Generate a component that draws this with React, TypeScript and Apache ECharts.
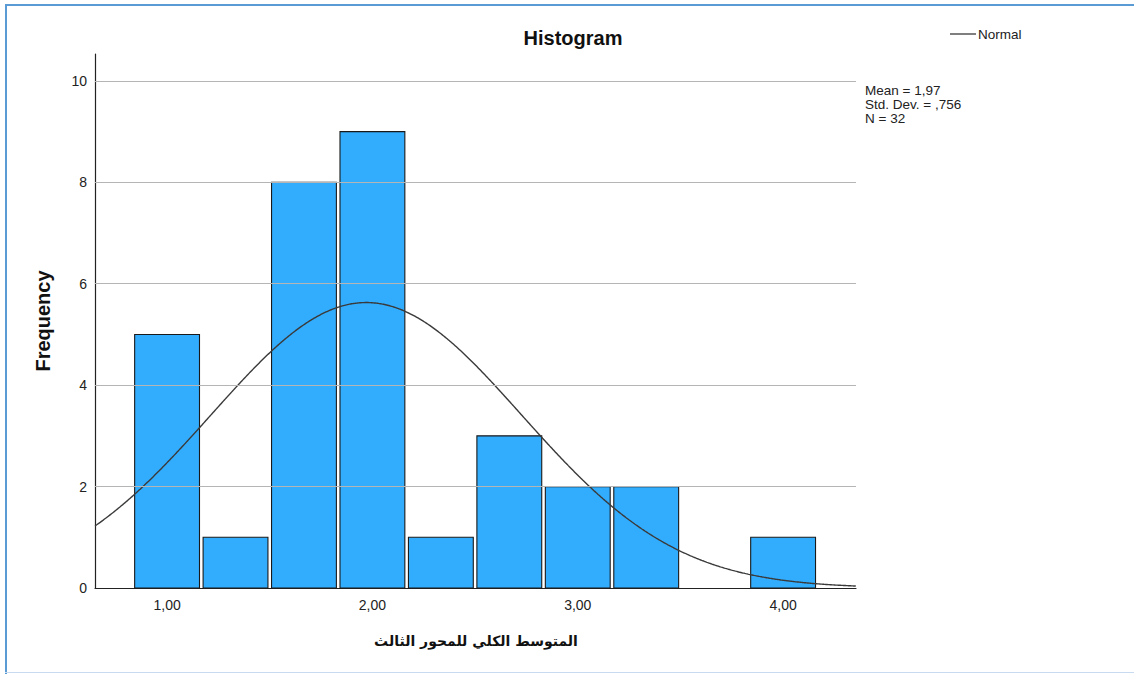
import React, { useEffect, useRef } from "react";
import * as echarts from "echarts";

// Histogram bins (bin width = 1/3) and their frequencies
const binWidth = 1 / 3;
const binCenters = [1, 4 / 3, 5 / 3, 2, 7 / 3, 8 / 3, 3, 10 / 3, 11 / 3, 4];
const frequencies = [5, 1, 8, 9, 1, 3, 2, 2, 0, 1];

// Summary statistics shown in the side note and used for the normal curve
const mean = 1.97;
const stdDev = 0.756;
const n = 32;

// Axis ranges and tick labels
const xMin = 0.649;
const xMax = 4.355;
const yMax = 10.53;
const xTicks = [1, 2, 3, 4];
const yTicks = [0, 2, 4, 6, 8, 10];
const gridValues = [2, 4, 6, 8, 10];

const xAxisTitle = "المتوسط الكلي للمحور الثالث";

const commaDecimal = (v: number, digits: number) => {
  let s = v.toFixed(digits).replace(".", ",");
  if (s.startsWith("0,")) s = s.slice(1);
  return s;
};

// Fitted normal curve, scaled to counts per bin
const normalCurve = (() => {
  const pts: [number, number][] = [];
  const k = (n * binWidth) / (stdDev * Math.sqrt(2 * Math.PI));
  for (let x = xMin; x <= xMax + 1e-9; x += 0.005) {
    const z = (x - mean) / stdDev;
    pts.push([x, k * Math.exp(-0.5 * z * z)]);
  }
  return pts;
})();

const FONT = "'Liberation Sans', Arial, sans-serif";

export default function App() {
  const ref = useRef<HTMLDivElement>(null);

  useEffect(() => {
    if (!ref.current) return;
    const chart = echarts.init(ref.current, null, { renderer: "svg" });
    chart.setOption({
      animation: false,
      backgroundColor: "#ffffff",
      grid: { left: 95, right: 278, top: 54, bottom: 86 },
      legend: {
        left: 950,
        top: 27,
        padding: 0,
        itemWidth: 26,
        itemHeight: 1.5,
        data: [{ name: "Normal", icon: "rect", itemStyle: { color: "#555" } }],
        textStyle: { fontFamily: FONT, fontSize: 13.5, color: "#222", padding: [0, 0, 0, -3] },
      },
      xAxis: {
        type: "value",
        min: xMin,
        max: xMax,
        splitLine: { show: false },
        axisTick: { show: false },
        axisLine: { show: true, onZero: false, lineStyle: { color: "#222", width: 1.2 } },
        axisLabel: {
          customValues: xTicks,
          formatter: (v: number) => commaDecimal(v, 2),
          fontFamily: FONT,
          fontSize: 14,
          color: "#222",
          margin: 10,
        },
      },
      yAxis: {
        type: "value",
        min: 0,
        max: yMax,
        splitLine: { show: false },
        axisTick: { show: false },
        axisLine: { show: true, lineStyle: { color: "#222", width: 1.2 } },
        axisLabel: {
          customValues: yTicks,
          formatter: (v: number) => String(Math.round(v)),
          fontFamily: FONT,
          fontSize: 14,
          color: "#222",
          margin: 8,
        },
      },
      graphic: [
        {
          type: "text",
          x: 573,
          y: 38,
          style: {
            text: "Histogram",
            font: `bold 20px ${FONT}`,
            fill: "#111",
            align: "center",
            verticalAlign: "middle",
          },
        },
        {
          type: "text",
          x: 43,
          y: 321,
          rotation: Math.PI / 2,
          style: {
            text: "Frequency",
            font: `bold 20px ${FONT}`,
            fill: "#111",
            align: "center",
            verticalAlign: "middle",
          },
        },
        {
          type: "text",
          x: 476,
          y: 641,
          style: {
            text: xAxisTitle,
            font: `bold 14px 'DejaVu Sans', sans-serif`,
            fill: "#111",
            align: "center",
            verticalAlign: "middle",
          },
        },
        {
          type: "text",
          x: 865,
          y: 83,
          style: {
            text: [
              `Mean = ${commaDecimal(mean, 2)}`,
              `Std. Dev. = ${commaDecimal(stdDev, 3)}`,
              `N = ${n}`,
            ].join("\n"),
            font: `13.5px ${FONT}`,
            lineHeight: 14,
            fill: "#222",
            align: "left",
            verticalAlign: "top",
          },
        },
      ],
      series: [
        {
          // horizontal reference lines behind the bars
          type: "line",
          data: [],
          z: 1,
          silent: true,
          markLine: {
            silent: true,
            symbol: "none",
            label: { show: false },
            lineStyle: { color: "#b5b5b5", width: 1.2, type: "solid" },
            data: gridValues.map((v) => ({ yAxis: v })),
          },
        },
        {
          name: "Frequency",
          type: "custom",
          z: 2,
          data: binCenters.map((c, i) => [c, frequencies[i]]),
          renderItem: (_params: any, api: any) => {
            const c = api.value(0);
            const h = api.value(1);
            if (!h) return { type: "group", children: [] };
            const p0 = api.coord([c - binWidth / 2, h]);
            const p1 = api.coord([c + binWidth / 2, 0]);
            const inset = 1.8;
            return {
              type: "rect",
              shape: {
                x: p0[0] + inset,
                y: p0[1],
                width: p1[0] - p0[0] - 2 * inset,
                height: p1[1] - p0[1],
              },
              style: { fill: "#32adfe", stroke: "#1a1a1a", lineWidth: 1.1 },
            };
          },
        },
        {
          name: "Normal",
          type: "line",
          z: 3,
          data: normalCurve,
          symbol: "none",
          showSymbol: false,
          smooth: false,
          clip: true,
          color: "#555",
          lineStyle: { color: "#3a3a3a", width: 1.4 },
        },
      ],
    });
    return () => chart.dispose();
  }, []);

  return (
    <div style={{ position: "fixed", left: 0, top: 0, width: 1134, height: 674, background: "#fff" }}>
      <div ref={ref} style={{ position: "absolute", left: 0, top: 0, width: 1134, height: 674 }} />
      <div style={{ position: "absolute", left: 5, top: 4, width: 1129, height: 1.5, background: "#5b9bd5", pointerEvents: "none" }} />
      <div style={{ position: "absolute", left: 5, top: 4, width: 1.5, height: 670, background: "#5b9bd5", pointerEvents: "none" }} />
      <div style={{ position: "absolute", left: 5, top: 672, width: 1129, height: 1, background: "#c8daf0", pointerEvents: "none" }} />
    </div>
  );
}
